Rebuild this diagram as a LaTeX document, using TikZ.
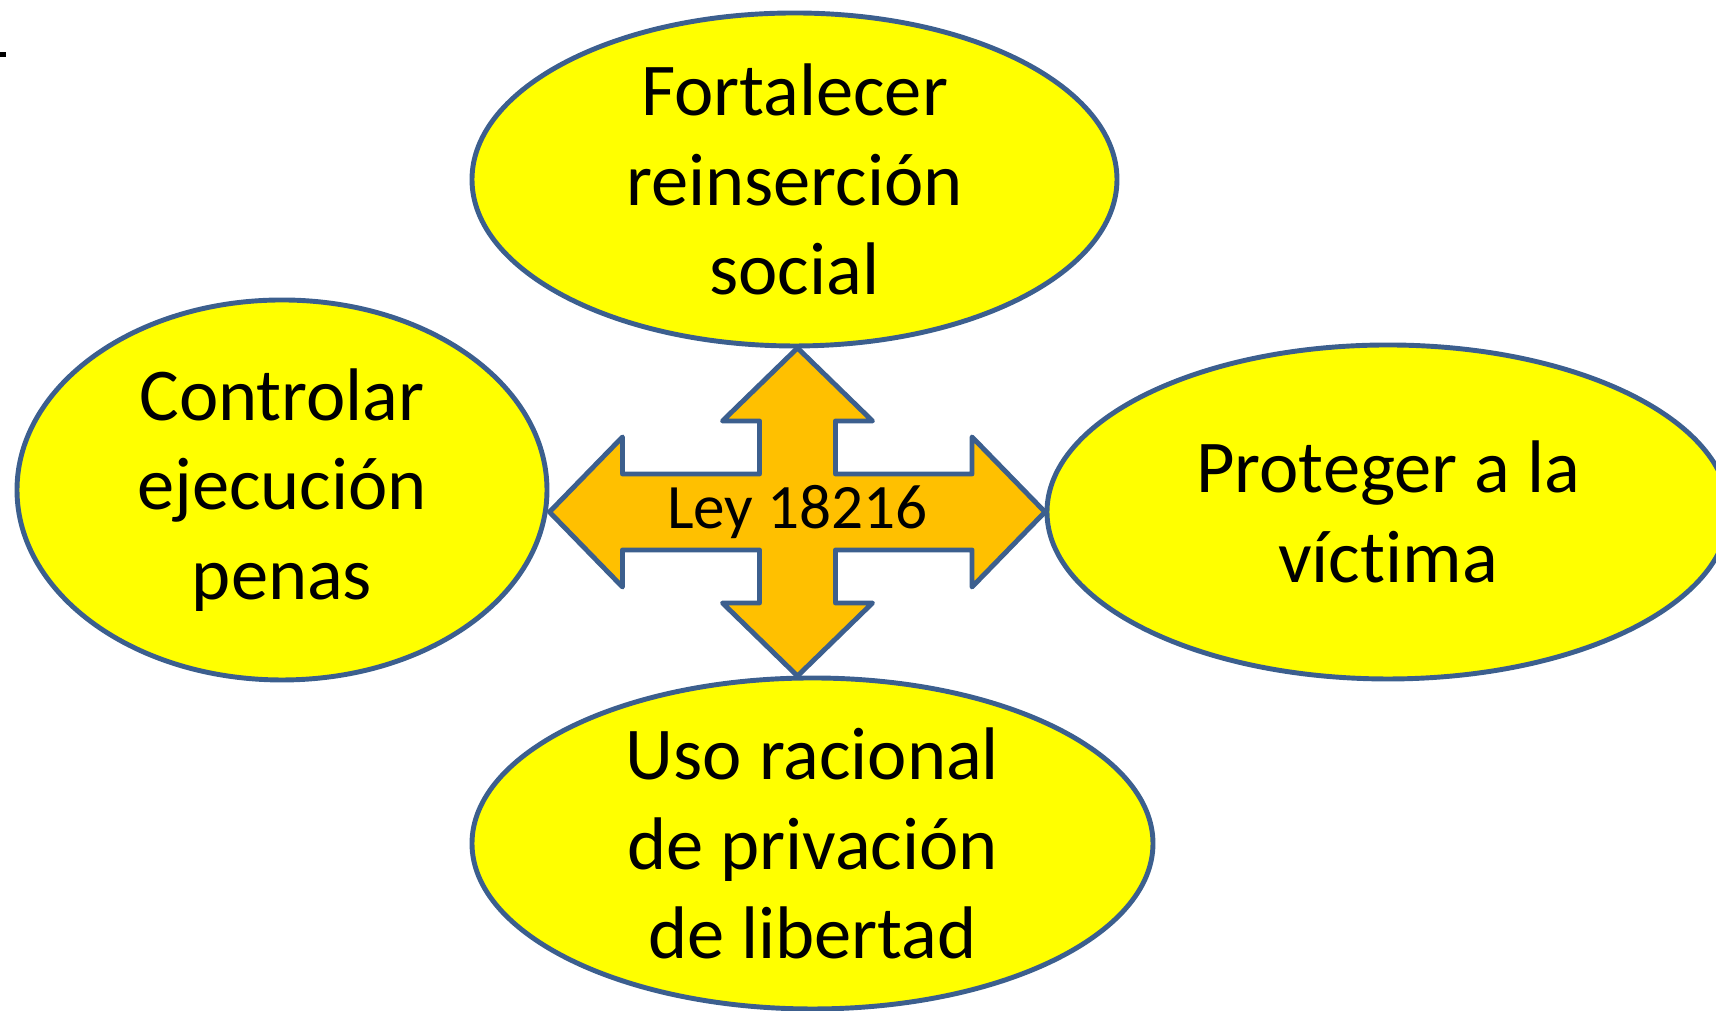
\documentclass[tikz,border=0pt]{standalone}
\usepackage{fontspec}
\setmainfont{Carlito}[Ligatures=NoCommon]
\usetikzlibrary{shapes.geometric}

\definecolor{goalfill}{HTML}{FFFF00}
\definecolor{goalline}{HTML}{3C5F8E}
\definecolor{leyfill}{HTML}{FFC000}

\tikzset{
  goal/.style={ellipse, draw=goalline, fill=goalfill, line width=1.4pt, inner sep=0pt,
    align=center, font=\fontsize{21.2}{25.5}\selectfont},
  quadarrow/.style={draw=goalline, fill=leyfill, line width=1.4pt, line join=round}
}

\begin{document}
\begin{tikzpicture}
\useasboundingbox (0,0) rectangle (17.16,10.11);
\fill (0,9.59) rectangle (0.06,9.54);
\node[goal, minimum width=6.45cm, minimum height=3.33cm] (reinsercion) at (7.945,8.315) {Fortalecer\\reinserción\\social};
\node[goal, minimum width=5.30cm, minimum height=3.80cm] (ejecucion) at (2.82,5.21) {Controlar\\ejecución\\penas};
\node[goal, minimum width=6.82cm, minimum height=3.34cm] (victima) at (13.88,4.99) {Proteger a la\\víctima};
\node[goal, minimum width=6.81cm, minimum height=3.31cm] (libertad) at (8.125,1.675) {Uso racional\\de privación\\de libertad};
\begin{scope}[shift={(7.975,4.99)}]
\draw[quadarrow] (0,1.64) -- (0.75,0.91) -- (0.38,0.91) -- (0.38,0.38) -- (1.745,0.38)
  -- (1.745,0.75) -- (2.475,0) -- (1.745,-0.75) -- (1.745,-0.38) -- (0.38,-0.38)
  -- (0.38,-0.91) -- (0.75,-0.91) -- (0,-1.64) -- (-0.75,-0.91) -- (-0.38,-0.91)
  -- (-0.38,-0.38) -- (-1.75,-0.38) -- (-1.75,-0.75) -- (-2.48,0) -- (-1.75,0.75)
  -- (-1.75,0.38) -- (-0.38,0.38) -- (-0.38,0.91) -- (-0.75,0.91) -- cycle;
\node[font=\fontsize{18}{21}\selectfont] (ley) at (0,0) {Ley 18216};
\end{scope}
\end{tikzpicture}
\end{document}
